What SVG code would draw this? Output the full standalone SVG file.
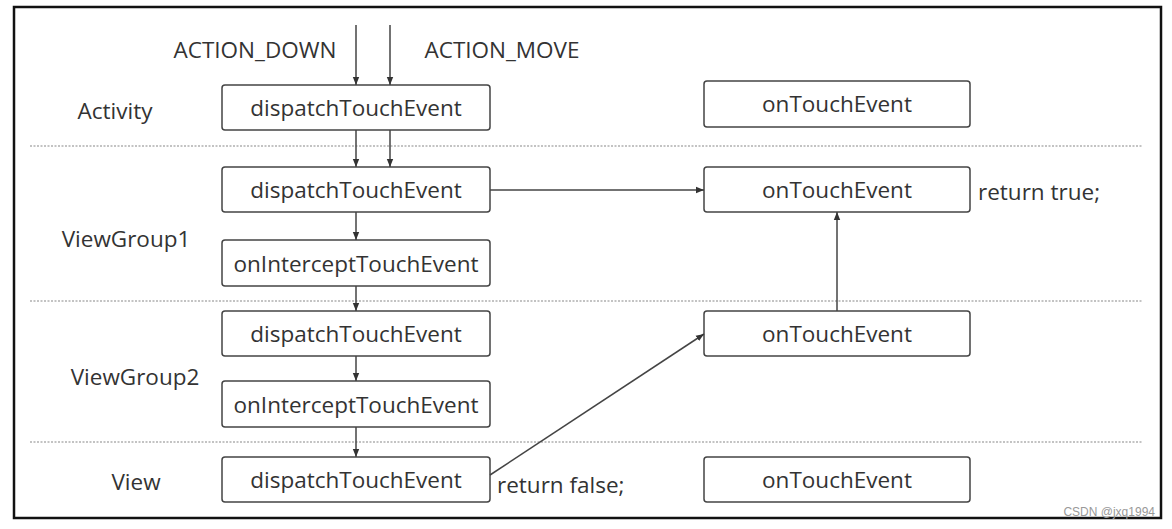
<svg xmlns="http://www.w3.org/2000/svg" width="1172" height="529" viewBox="0 0 1172 529">
<style>
text{font-family:"Open Sans","Noto Sans",sans-serif;font-size:22.5px;fill:#333}
.box{fill:#fff;stroke:#444;stroke-width:1.5}
.lbl{text-anchor:middle}
.sep{stroke:#888;stroke-width:1.2;stroke-dasharray:2 1.5}
.c{stroke:#444;stroke-width:1.5;fill:none;marker-end:url(#ah)}
</style>
<defs>
<marker id="ah" viewBox="0 0 10 10" refX="10" refY="5" markerWidth="8" markerHeight="8" markerUnits="userSpaceOnUse" orient="auto">
<path d="M0,1 L10,5 L0,9 z" fill="#333"/>
</marker>
</defs>
<rect x="0" y="0" width="1172" height="529" fill="#fff"/>
<rect x="14" y="7" width="1147" height="511" fill="#fff" stroke="#111" stroke-width="2.5"/>
<g id="separators">
<line class="sep" x1="30" y1="146" x2="1143" y2="146"/>
<line class="sep" x1="30" y1="301" x2="1143" y2="301"/>
<line class="sep" x1="30" y1="442" x2="1143" y2="442"/>
</g>
<g id="layer-labels">
<text x="115" y="119" class="lbl">Activity</text>
<text x="126" y="247" class="lbl">ViewGroup1</text>
<text x="135" y="385" class="lbl">ViewGroup2</text>
<text x="136" y="490" class="lbl">View</text>
<text x="255" y="58" class="lbl">ACTION_DOWN</text>
<text x="502" y="58" class="lbl">ACTION_MOVE</text>
<text x="978" y="200">return true;</text>
<text x="497" y="493">return false;</text>
</g>
<g id="act-dispatch"><rect class="box" x="222" y="85" width="268" height="45" rx="3"/><text x="356" y="116" class="lbl">dispatchTouchEvent</text></g>
<g id="act-touch"><rect class="box" x="704" y="81" width="266" height="46" rx="3"/><text x="837" y="112" class="lbl">onTouchEvent</text></g>
<g id="vg1-dispatch"><rect class="box" x="222" y="167" width="268" height="45" rx="3"/><text x="356" y="198" class="lbl">dispatchTouchEvent</text></g>
<g id="vg1-touch"><rect class="box" x="704" y="167" width="266" height="45" rx="3"/><text x="837" y="198" class="lbl">onTouchEvent</text></g>
<g id="vg1-intercept"><rect class="box" x="222" y="240" width="268" height="46" rx="3"/><text x="356" y="272" class="lbl">onInterceptTouchEvent</text></g>
<g id="vg2-dispatch"><rect class="box" x="222" y="311" width="268" height="45" rx="3"/><text x="356" y="342" class="lbl">dispatchTouchEvent</text></g>
<g id="vg2-touch"><rect class="box" x="704" y="311" width="266" height="45" rx="3"/><text x="837" y="342" class="lbl">onTouchEvent</text></g>
<g id="vg2-intercept"><rect class="box" x="222" y="381" width="268" height="46" rx="3"/><text x="356" y="413" class="lbl">onInterceptTouchEvent</text></g>
<g id="view-dispatch"><rect class="box" x="222" y="457" width="268" height="45" rx="3"/><text x="356" y="488" class="lbl">dispatchTouchEvent</text></g>
<g id="view-touch"><rect class="box" x="704" y="457" width="266" height="45" rx="3"/><text x="837" y="488" class="lbl">onTouchEvent</text></g>
<g id="connectors">
<line class="c" x1="356" y1="25" x2="356" y2="85"/>
<line class="c" x1="390" y1="25" x2="390" y2="85"/>
<line class="c" x1="356" y1="130" x2="356" y2="167"/>
<line class="c" x1="390" y1="130" x2="390" y2="167"/>
<line class="c" x1="356" y1="212" x2="356" y2="240"/>
<line class="c" x1="356" y1="286" x2="356" y2="311"/>
<line class="c" x1="356" y1="356" x2="356" y2="381"/>
<line class="c" x1="356" y1="427" x2="356" y2="457"/>
<line class="c" x1="490" y1="190" x2="704" y2="190"/>
<line class="c" x1="837" y1="311" x2="837" y2="212"/>
<line class="c" x1="490" y1="475" x2="704" y2="334"/>
</g>
<text x="1155" y="516" style="font-family:'Liberation Sans',sans-serif;font-size:12px;fill:#999;text-anchor:end">CSDN @jxq1994</text>
</svg>
